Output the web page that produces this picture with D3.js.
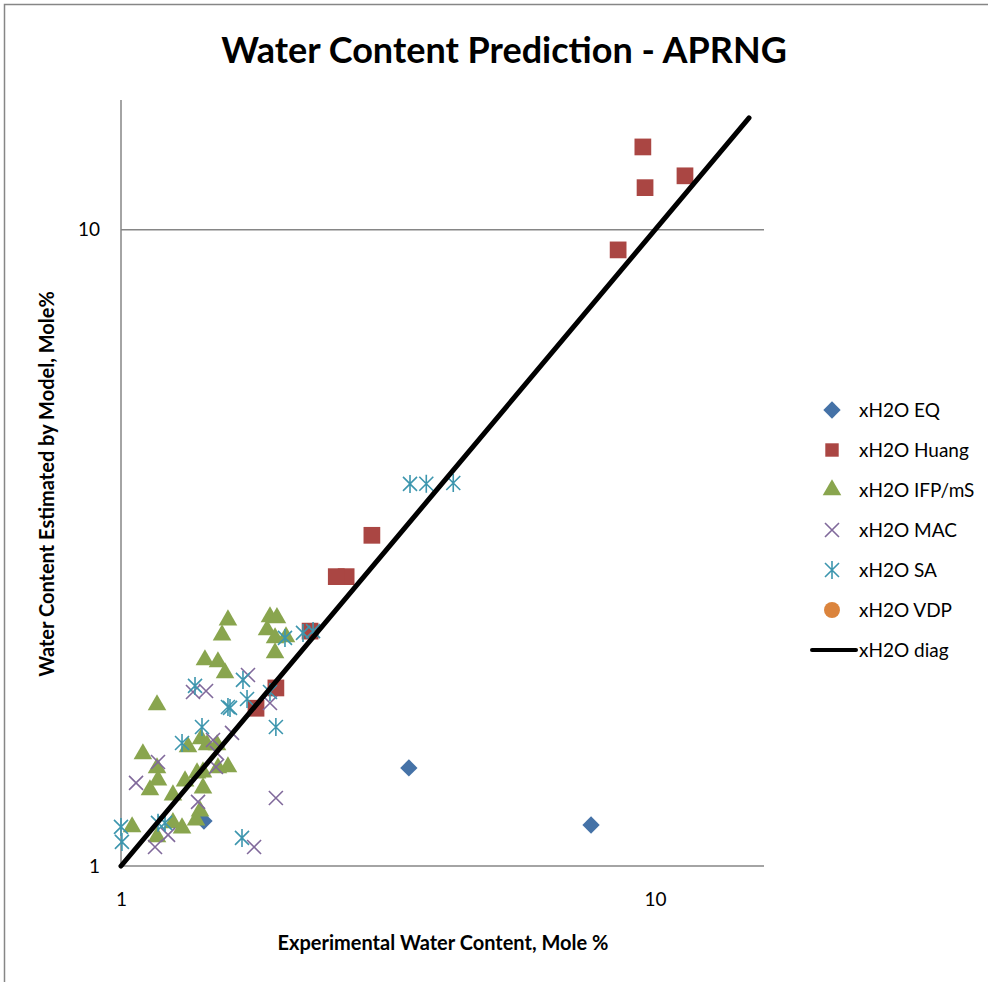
<!DOCTYPE html>
<html lang="en">
<head>
<meta charset="UTF-8">
<title>Water Content Prediction - APRNG</title>
<script src="https://d3js.org/d3.v7.min.js"></script>
<style>
  body { margin: 0; background: #ffffff; font-family: 'Lato', 'Liberation Sans', sans-serif; }
  svg { display: block; }
  .axis path { stroke: #868686; stroke-width: 1.5px; }
  .axis text { font-size: 19px; fill: #000; font-family: 'Lato', sans-serif; }
  .legend text { font-size: 19px; fill: #000; }
</style>
</head>
<body>
<div id="chart"></div>
<script>
// series values: [experimental, estimated] (Mole %)
const eqData = [[1.43, 1.177], [3.46, 1.426], [7.59, 1.16]];
const huangData = [
  [9.49, 13.5], [9.58, 11.65], [11.38, 12.16], [8.53, 9.30], [2.95, 3.31],
  [2.64, 2.85], [2.53, 2.85], [2.26, 2.34], [1.95, 1.905], [1.79, 1.77]
];
const ifpData = [
  [1.049, 1.152], [1.099, 1.500], [1.133, 1.317], [1.168, 1.791], [1.168, 1.426],
  [1.173, 1.365], [1.168, 1.111], [1.251, 1.293], [1.251, 1.169], [1.301, 1.147],
  [1.318, 1.360], [1.335, 1.539], [1.388, 1.400], [1.424, 1.405], [1.424, 1.326],
  [1.406, 1.220], [1.382, 1.181], [1.412, 1.584], [1.449, 1.550], [1.513, 1.550],
  [1.519, 1.426], [1.586, 1.431], [1.436, 2.108], [1.519, 2.093], [1.566, 2.011],
  [1.546, 2.307], [1.586, 2.436], [1.877, 2.350], [1.901, 2.463], [1.959, 2.455],
  [1.943, 2.283], [2.037, 2.291], [1.943, 2.162]
];
const macData = [
  [1.067, 1.351], [1.158, 1.071], [1.173, 1.457], [1.225, 1.119], [1.364, 1.877],
  [1.443, 1.884], [1.394, 1.261], [1.487, 1.578], [1.513, 1.505], [1.506, 1.431],
  [1.614, 1.619], [1.729, 1.996], [1.901, 1.804], [1.950, 1.279], [1.775, 1.071]
];
const saData = [
  [1.0, 1.152], [1.004, 1.091], [1.173, 1.169], [1.209, 1.169], [1.301, 1.561],
  [1.376, 1.919], [1.418, 1.654], [1.586, 1.778], [1.600, 1.772], [1.692, 1.961],
  [1.722, 1.830], [1.685, 1.107], [1.901, 1.877], [1.950, 1.654], [2.028, 2.283],
  [2.192, 2.325], [2.289, 2.340], [3.477, 3.987], [3.73, 3.99], [4.19, 4.0]
];
const vdpData = [];
const diagData = [[1, 1], [15, 15]];

const seriesNames = ["xH2O EQ", "xH2O Huang", "xH2O IFP/mS", "xH2O MAC", "xH2O SA", "xH2O VDP", "xH2O diag"];
const xTicks = [1, 10];
const yTicks = [1, 10];
const axisMax = 16;

const width = 988, height = 982;
const margin = { left: 121, right: 224, top: 100, bottom: 116 };

const svg = d3.select("#chart").append("svg")
  .attr("width", width).attr("height", height);

// chart frame
svg.append("rect")
  .attr("x", 4.5).attr("y", 4.5)
  .attr("width", 1000).attr("height", 1000)
  .attr("fill", "none").attr("stroke", "#868686").attr("stroke-width", 1.5);

const x = d3.scaleLog().domain([1, axisMax]).range([margin.left, width - margin.right]);
const y = d3.scaleLog().domain([1, axisMax]).range([height - margin.bottom, margin.top]);

// gridline at 10
svg.append("g").selectAll("line")
  .data(yTicks.filter(d => d > 1))
  .enter().append("line")
  .attr("x1", x(1)).attr("x2", x(axisMax))
  .attr("y1", d => y(d)).attr("y2", d => y(d))
  .attr("stroke", "#868686").attr("stroke-width", 1.5);

svg.append("g").attr("class", "axis")
  .attr("transform", `translate(0,${y(1)})`)
  .call(d3.axisBottom(x).tickValues(xTicks).tickFormat(d3.format("d")).tickSize(0).tickPadding(27))
  .call(g => g.select(".domain").attr("d", `M${x(1)},0H${x(axisMax)}`));

svg.append("g").attr("class", "axis")
  .attr("transform", `translate(${x(1)},0)`)
  .call(d3.axisLeft(y).tickValues(yTicks).tickFormat(d3.format("d")).tickSize(0).tickPadding(21))
  .call(g => g.select(".domain").attr("d", `M0,${y(1)}V${y(axisMax)}`));

const colors = {
  eq: "#4572A7", huang: "#AA4643", ifp: "#89A54E",
  mac: "#80699B", sa: "#3D96AE", vdp: "#DB843D", diag: "#000000"
};

// marker shapes
const sq = d3.symbol(d3.symbolSquare, 280)();
const tri = d3.symbol(d3.symbolTriangle, 150)();
const dia = d3.symbol(d3.symbolSquare, 150)();
const circ = d3.symbol(d3.symbolCircle, 200)();
const xMark = "M-7,-7L7,7M-7,7L7,-7";
const star = "M-7,-7L7,7M-7,7L7,-7M0,-9L0,9";

function drawSeries(data, shape, color, kind) {
  const g = svg.append("g");
  const sel = g.selectAll("path").data(data).enter().append("path")
    .attr("d", shape)
    .attr("transform", d => `translate(${x(d[0])},${y(d[1])})` + (kind === "dia" ? " rotate(45)" : ""));
  if (kind === "stroke") {
    sel.attr("fill", "none").attr("stroke", color).attr("stroke-width", 1.6);
  } else {
    sel.attr("fill", color);
  }
}

drawSeries(eqData, dia, colors.eq, "dia");
drawSeries(huangData, sq, colors.huang, "fill");
drawSeries(ifpData, tri, colors.ifp, "fill");
drawSeries(macData, xMark, colors.mac, "stroke");
drawSeries(saData, star, colors.sa, "stroke");
drawSeries(vdpData, circ, colors.vdp, "fill");

svg.append("path")
  .datum(diagData)
  .attr("d", d3.line().x(d => x(d[0])).y(d => y(d[1])))
  .attr("fill", "none").attr("stroke", colors.diag)
  .attr("stroke-width", 5).attr("stroke-linecap", "round");

// titles
svg.append("text")
  .attr("x", 504).attr("y", 63)
  .attr("text-anchor", "middle")
  .attr("font-size", 36).attr("font-weight", "bold")
  .text("Water Content Prediction - APRNG");

svg.append("text")
  .attr("x", 443).attr("y", 950)
  .attr("text-anchor", "middle")
  .attr("font-size", 20).attr("font-weight", "bold")
  .text("Experimental Water Content, Mole %");

svg.append("text")
  .attr("transform", "translate(54,484) rotate(-90)")
  .attr("text-anchor", "middle")
  .attr("font-size", 20).attr("font-weight", "bold")
  .text("Water Content Estimated by Model, Mole%");

// legend
const legend = svg.append("g").attr("class", "legend");
const legendShapes = [
  { s: dia, c: colors.eq, k: "dia" },
  { s: d3.symbol(d3.symbolSquare, 180)(), c: colors.huang, k: "fill" },
  { s: tri, c: colors.ifp, k: "fill" },
  { s: xMark, c: colors.mac, k: "stroke" },
  { s: star, c: colors.sa, k: "stroke" },
  { s: circ, c: colors.vdp, k: "fill" },
  { s: null, c: colors.diag, k: "line" }
];
seriesNames.forEach((name, i) => {
  const ly = 410 + i * 40;
  const m = legendShapes[i];
  if (m.k === "line") {
    legend.append("line").attr("x1", 812).attr("x2", 856).attr("y1", ly).attr("y2", ly)
      .attr("stroke", m.c).attr("stroke-width", 4).attr("stroke-linecap", "round");
  } else {
    const p = legend.append("path").attr("d", m.s)
      .attr("transform", `translate(832,${ly})` + (m.k === "dia" ? " rotate(45)" : ""));
    if (m.k === "stroke") p.attr("fill", "none").attr("stroke", m.c).attr("stroke-width", 1.6);
    else p.attr("fill", m.c);
  }
  legend.append("text").attr("x", 859).attr("y", ly + 7).text(name);
});
</script>
</body>
</html>
